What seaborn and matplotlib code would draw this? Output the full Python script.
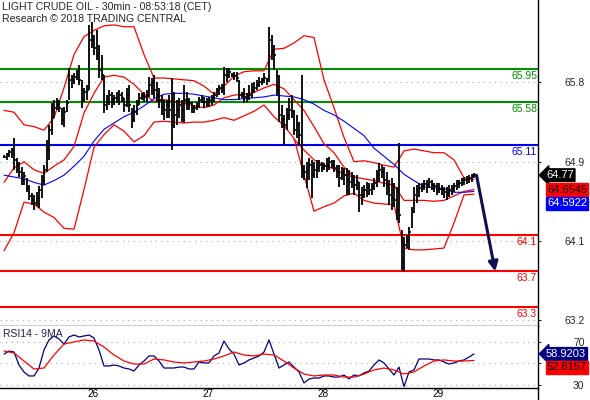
import matplotlib
matplotlib.use("Agg")
import matplotlib.pyplot as plt
import matplotlib.transforms as mtransforms
import numpy as np
import pandas as pd
import seaborn as sns

sns.set_style("white")
plt.rcParams['font.family'] = ['Liberation Sans', 'DejaVu Sans']

# ---------------- data ----------------
title_line1 = "LIGHT CRUDE OIL - 30min - 08:53:18 (CET)"
title_line2 = "Research \u00a9 2018 TRADING CENTRAL"

high = [64.99, 65.02, 65.05, 65.07, 65.18, 64.96, 64.92, 64.86, 64.81, 64.74,
        64.66, 64.57, 64.55, 64.58, 64.65, 64.77, 64.88, 65.16, 65.33, 65.57,
        65.61, 65.63, 65.61, 65.52, 65.53, 65.61, 65.96, 65.88, 65.91, 65.94,
        65.99, 65.83, 65.74, 65.77, 66.44, 66.47, 66.33, 66.38, 66.22, 66.11,
        65.88, 65.66, 65.72, 65.69, 65.66, 65.69, 65.72, 65.69, 65.63, 65.74,
        65.77, 65.52, 65.55, 65.61, 65.68, 65.68, 65.69, 65.72, 65.86, 65.85,
        65.88, 65.81, 65.74, 65.66, 65.61, 65.61, 65.66, 65.85, 65.69, 65.61,
        65.63, 65.61, 65.77, 65.69, 65.63, 65.58, 65.55, 65.58, 65.64, 65.66,
        65.64, 65.63, 65.64, 65.66, 65.69, 65.74, 65.77, 65.78, 65.97, 65.96,
        65.96, 65.91, 65.92, 65.92, 65.83, 65.69, 65.74, 65.68, 65.77, 65.79,
        65.81, 65.83, 65.86, 65.85, 65.91, 65.85, 66.42, 66.33, 66.22, 65.94,
        65.88, 65.55, 65.44, 65.52, 65.63, 65.66, 65.49, 65.44, 65.36, 65.88,
        64.88, 64.92, 64.96, 64.94, 64.92, 64.94, 64.94, 64.92, 64.91, 64.96,
        64.97, 64.94, 64.94, 64.88, 64.88, 64.86, 64.85, 64.85, 64.83, 64.81,
        64.77, 64.77, 64.69, 64.64, 64.66, 64.69, 64.68, 64.68, 64.74, 64.83,
        64.91, 64.88, 64.86, 64.81, 64.72, 64.74, 64.68, 64.64, 65.13, 64.16,
        64.08, 64.11, 64.19, 64.42, 64.64, 64.66, 64.68, 64.68, 64.72, 64.72,
        64.74, 64.72, 64.68, 64.68, 64.68, 64.66, 64.64, 64.64, 64.66, 64.66,
        64.68, 64.72, 64.72, 64.74, 64.75, 64.76, 64.77, 64.78, 64.79]

low = [64.96, 64.94, 64.97, 64.96, 64.83, 64.79, 64.75, 64.66, 64.66, 64.58,
       64.49, 64.44, 64.38, 64.43, 64.41, 64.52, 64.66, 64.81, 64.94, 65.22,
       65.41, 65.49, 65.47, 65.33, 65.31, 65.47, 65.61, 65.74, 65.78, 65.83,
       65.77, 65.52, 65.58, 65.61, 65.72, 66.18, 66.11, 66.05, 65.85, 65.83,
       65.46, 65.49, 65.55, 65.52, 65.55, 65.57, 65.55, 65.58, 65.47, 65.53,
       65.47, 65.29, 65.36, 65.44, 65.55, 65.61, 65.58, 65.58, 65.64, 65.66,
       65.63, 65.58, 65.52, 65.44, 65.38, 65.41, 65.41, 65.05, 65.29, 65.33,
       65.41, 65.36, 65.35, 65.49, 65.49, 65.46, 65.46, 65.49, 65.52, 65.57,
       65.52, 65.53, 65.53, 65.55, 65.58, 65.64, 65.66, 65.68, 65.66, 65.81,
       65.85, 65.86, 65.83, 65.81, 65.61, 65.63, 65.57, 65.58, 65.61, 65.63,
       65.68, 65.72, 65.75, 65.77, 65.79, 65.77, 65.81, 66.05, 65.94, 65.66,
       65.36, 65.29, 65.11, 65.27, 65.38, 65.41, 65.22, 65.18, 65.11, 64.74,
       64.72, 64.63, 64.72, 64.52, 64.74, 64.74, 64.81, 64.81, 64.83, 64.81,
       64.83, 64.85, 64.81, 64.74, 64.64, 64.72, 64.66, 64.55, 64.55, 64.63,
       64.55, 64.61, 64.36, 64.44, 64.52, 64.53, 64.55, 64.55, 64.61, 64.64,
       64.69, 64.74, 64.64, 64.55, 64.44, 64.38, 64.42, 64.27, 64.24, 63.72,
       63.69, 63.96, 63.94, 64.18, 64.35, 64.46, 64.53, 64.58, 64.61, 64.57,
       64.63, 64.61, 64.58, 64.55, 64.57, 64.55, 64.52, 64.49, 64.53, 64.55,
       64.58, 64.61, 64.63, 64.65, 64.66, 64.67, 64.68, 64.69, 64.74]

close = [64.97, 65.01, 65.03, 65.05, 64.94, 64.88, 64.81, 64.72, 64.76, 64.63,
         64.54, 64.49, 64.46, 64.52, 64.61, 64.72, 64.83, 65.05, 65.27, 65.49,
         65.52, 65.55, 65.52, 65.38, 65.47, 65.57, 65.83, 65.83, 65.86, 65.88,
         65.83, 65.61, 65.69, 65.72, 66.27, 66.27, 66.18, 66.11, 65.94, 65.88,
         65.55, 65.58, 65.66, 65.61, 65.63, 65.64, 65.66, 65.63, 65.55, 65.66,
         65.55, 65.38, 65.47, 65.55, 65.63, 65.65, 65.64, 65.66, 65.77, 65.81,
         65.72, 65.66, 65.61, 65.52, 65.49, 65.55, 65.49, 65.55, 65.44, 65.49,
         65.55, 65.49, 65.61, 65.61, 65.57, 65.52, 65.52, 65.54, 65.61, 65.63,
         65.58, 65.58, 65.61, 65.63, 65.66, 65.72, 65.74, 65.74, 65.88, 65.88,
         65.92, 65.88, 65.87, 65.85, 65.66, 65.66, 65.64, 65.65, 65.66, 65.72,
         65.74, 65.77, 65.81, 65.83, 65.85, 65.83, 66.27, 66.16, 66.11, 65.72,
         65.44, 65.38, 65.33, 65.44, 65.49, 65.47, 65.27, 65.33, 65.22, 64.83,
         64.81, 64.83, 64.88, 64.77, 64.83, 64.85, 64.88, 64.85, 64.87, 64.88,
         64.92, 64.88, 64.85, 64.81, 64.74, 64.81, 64.77, 64.72, 64.69, 64.72,
         64.66, 64.69, 64.55, 64.55, 64.61, 64.63, 64.61, 64.64, 64.68, 64.77,
         64.83, 64.81, 64.72, 64.66, 64.55, 64.52, 64.49, 64.38, 64.33, 63.81,
         63.99, 64.05, 64.14, 64.36, 64.55, 64.61, 64.63, 64.65, 64.67, 64.66,
         64.69, 64.66, 64.65, 64.63, 64.62, 64.61, 64.58, 64.57, 64.61, 64.63,
         64.65, 64.67, 64.68, 64.72, 64.72, 64.73, 64.74, 64.76, 64.77]

# indicator curves, read every 4 bars (bars 0, 4, ..., 188)
band_upper_slow = [65.49, 65.47, 65.33, 65.31, 65.27, 65.41, 65.74, 66.11, 66.31, 66.38,
                   66.43, 66.44, 66.42, 66.42, 66.11, 65.85, 65.85, 65.84, 65.83, 65.82,
                   65.76, 65.67, 65.76, 65.87, 65.92, 65.93, 65.93, 66.17, 66.18, 66.24,
                   66.32, 66.30, 65.83, 65.52, 65.19, 64.92, 64.93, 64.91, 64.88, 64.86,
                   65.04, 65.06, 65.04, 65.02, 65.02, 64.94, 64.74, 64.72]
band_lower_slow = [63.93, 64.13, 64.47, 64.45, 64.36, 64.30, 64.18, 64.17, 64.61, 65.08,
                   65.22, 65.33, 65.26, 65.14, 65.21, 65.36, 65.37, 65.36, 65.35, 65.36,
                   65.36, 65.38, 65.41, 65.38, 65.43, 65.48, 65.55, 65.42, 65.32, 65.18,
                   64.77, 64.37, 64.42, 64.46, 64.54, 64.57, 64.49, 64.46, 64.45, 64.44,
                   63.96, 63.94, 63.94, 63.95, 63.96, 64.24, 64.55, 64.56]
band_fast = [64.69, 64.85, 64.92, 64.83, 64.79, 64.87, 64.94, 65.09, 65.46, 65.68,
             65.86, 65.88, 65.86, 65.78, 65.67, 65.59, 65.61, 65.59, 65.57, 65.54,
             65.52, 65.55, 65.63, 65.66, 65.67, 65.69, 65.74, 65.78, 65.73, 65.61,
             65.49, 65.31, 65.12, 65.02, 64.86, 64.75, 64.73, 64.71, 64.68, 64.66,
             64.49, 64.49, 64.49, 64.48, 64.49, 64.54, 64.59, 64.61]
band_fast2_bars = [116, 120, 124, 128, 132, 136, 140]
band_fast2 = [65.17, 65.05, 64.94, 64.88, 64.84, 64.78, 64.75]
moving_avg = [64.77, 64.75, 64.73, 64.69, 64.66, 64.71, 64.77, 64.87, 64.98, 65.15,
              65.28, 65.35, 65.42, 65.47, 65.54, 65.62, 65.67, 65.68, 65.68, 65.67,
              65.65, 65.63, 65.61, 65.61, 65.62, 65.63, 65.64, 65.66, 65.65, 65.64,
              65.61, 65.56, 65.49, 65.44, 65.37, 65.29, 65.21, 65.07, 64.98, 64.89,
              64.78, 64.71, 64.64, 64.63, 64.62, 64.58, 64.58, 64.59]

# RSI read every 2 bars, its 9MA every 4 bars
rsi = [58.8, 61.6, 60.7, 48.6, 42.1, 38.4, 38.4, 45.8, 62.6, 71.9,
       75.6, 72.8, 68.1, 74.7, 76.5, 74.7, 75.6, 76.5, 73.7, 62.6,
       47.7, 47.7, 48.6, 47.7, 45.8, 44.9, 43.0, 48.6, 52.3, 57.0,
       57.0, 52.3, 45.8, 45.8, 45.8, 46.7, 46.7, 44.9, 44.9, 51.4,
       50.5, 50.5, 57.0, 59.8, 70.9, 63.5, 58.8, 48.6, 50.5, 53.3,
       55.1, 57.0, 60.7, 71.9, 58.8, 45.8, 48.6, 51.4, 46.7, 42.1,
       31.9, 35.6, 36.5, 36.5, 38.4, 38.4, 37.4, 37.4, 39.3, 35.6,
       39.3, 38.4, 41.2, 43.0, 48.6, 53.3, 50.5, 44.9, 39.3, 46.7,
       28.5, 42.1, 44.0, 54.2, 54.2, 54.2, 53.3, 53.3, 51.4, 49.5,
       50.5, 52.3, 53.3, 56.0, 58.9]
rsi_ma = [61.6, 59.8, 52.3, 44.9, 45.8, 57.9, 68.1, 70.0, 71.9, 70.9,
          65.3, 57.9, 52.3, 49.5, 49.5, 54.2, 53.3, 51.4, 50.5, 51.4,
          52.3, 54.2, 57.0, 60.7, 57.9, 57.0, 58.8, 57.9, 52.3, 45.8,
          40.2, 38.4, 39.3, 39.3, 37.4, 37.4, 40.2, 44.0, 45.8, 44.0,
          40.2, 42.1, 47.7, 52.3, 53.3, 52.3, 52.3, 52.8]

levels = [65.95, 65.58, 65.11, 64.1, 63.7, 63.3]
level_labels = ["65.95", "65.58", "65.11", "64.1", "63.7", "63.3"]
level_colors = ["#009000", "#009000", "#0000ee", "#ff0000", "#ff0000", "#ff0000"]

price_ticks = [65.806, 64.917, 64.039, 63.161]
price_tick_labels = ["65.8", "64.9", "64.1", "63.2"]
rsi_ticks = [30, 50, 70]
rsi_tick_labels = ["30", "", "70"]
day_ticks = [32, 78, 124, 170]
day_labels = ["26", "27", "28", "29"]

last_price = 64.77
band_last = 64.6545
ma_last = 64.5922
rsi_last = 58.9203
rsi_ma_last = 52.8157
forecast_target = 63.7
forecast_bars = 7.5

# ---------------- figure ----------------
W, H = 590, 400
fig = plt.figure(figsize=(W / 100, H / 100), dpi=100)
ax = fig.add_axes([0, 74 / H, 538 / W, 326 / H])
rx = fig.add_axes([0, 12 / H, 538 / W, 62 / H])

n = len(close)
bars = np.arange(n)
band_bars = np.arange(0, n, 4)
rsi_bars = np.arange(0, n, 2)

xlim = (-1.6, 213.6)
grid_kw = dict(color="#a8a8a8", lw=0.8, ls=(0, (1, 4)))

# price panel
for t in price_ticks:
    ax.axhline(t, zorder=0, **grid_kw)
for v, c in zip(levels, level_colors):
    ax.axhline(v, color=c, lw=1.5, zorder=2)

bands = pd.DataFrame({"bar": band_bars, "u": band_upper_slow, "l": band_lower_slow,
                      "f": band_fast, "ma": moving_avg})
for col in ["u", "l", "f"]:
    sns.lineplot(data=bands, x="bar", y=col, ax=ax, color="#ff0000", lw=0.9, zorder=3)
sns.lineplot(x=band_fast2_bars, y=band_fast2, ax=ax, color="#ff0000", lw=0.9, zorder=3)
sns.lineplot(data=bands, x="bar", y="ma", ax=ax, color="#0000ff", lw=0.8, zorder=3)

ax.vlines(bars, low, high, color="black", lw=1.3, zorder=4)
ax.hlines(close, bars, bars + 0.8, color="black", lw=1.2, zorder=4)

ax.annotate("", xy=(n + forecast_bars, forecast_target), xytext=(n, last_price),
            arrowprops=dict(arrowstyle="-|>", color="#101050", lw=2.2,
                            mutation_scale=14, shrinkA=0, shrinkB=0), zorder=5)

for v, lbl, c in zip(levels, level_labels, level_colors):
    ax.annotate(lbl, xy=(1, v), xycoords=("axes fraction", "data"),
                xytext=(-1, -7), textcoords="offset pixels", ha="right", va="center",
                fontsize=7.5, color=c)

ax.set_xlim(*xlim)
ax.set_ylim(63.094, 66.717)
ax.set_xticks([])
ax.yaxis.tick_right()
ax.set_yticks(price_ticks)
ax.set_yticklabels(price_tick_labels)
ax.tick_params(axis="y", length=2.5, width=0.8, pad=31, labelsize=7.5, direction="out")
for lab in ax.get_yticklabels():
    lab.set_ha("right")
ax.set_xlabel("")
ax.set_ylabel("")
for s in ["top", "left"]:
    ax.spines[s].set_visible(False)
for s in ["right", "bottom"]:
    ax.spines[s].set_color("black")
    ax.spines[s].set_linewidth(1.0)

# value markers on the price axis
mk = dict(xycoords=("axes fraction", "data"), textcoords="offset pixels",
          va="center", fontsize=8, annotation_clip=False)
ax.annotate(f"{last_price:.2f}", xy=(1, last_price), xytext=(8, 0), ha="left",
            color="white", bbox=dict(boxstyle="larrow,pad=0.12", fc="black", ec="black"), **mk)
ax.annotate(f"{band_last:.4f}", xy=(1, band_last), xytext=(9, -4), ha="left",
            color="black", bbox=dict(boxstyle="square,pad=0.12", fc="#ff0000", ec="#ff0000"), **mk)
ax.annotate(f"{ma_last:.4f}", xy=(1, ma_last), xytext=(9, -12), ha="left",
            color="white", bbox=dict(boxstyle="square,pad=0.12", fc="#0000ff", ec="#0000ff"), **mk)

# RSI panel
for t in rsi_ticks:
    rx.axhline(t, zorder=0, **grid_kw)
sns.lineplot(x=rsi_bars, y=rsi, ax=rx, color="#000080", lw=0.9, zorder=3)
sns.lineplot(x=band_bars, y=rsi_ma, ax=rx, color="#ff0000", lw=0.9, zorder=3)
rx.set_xlim(*xlim)
rx.set_ylim(27.21, 84.88)
rx.yaxis.tick_right()
rx.set_yticks(rsi_ticks)
rx.set_yticklabels(rsi_tick_labels)
rx.tick_params(axis="y", length=2.5, width=0.8, pad=31, labelsize=7.5, direction="out")
for lab in rx.get_yticklabels():
    lab.set_ha("right")
rx.set_xticks(day_ticks)
rx.set_xticklabels(day_labels)
rx.tick_params(axis="x", length=3.5, width=0.8, pad=-2.5, labelsize=7.2, direction="out",
               labelcolor="#000000")
shift = mtransforms.ScaledTranslation(3 / 100, 0, fig.dpi_scale_trans)
for lab in rx.get_xticklabels():
    lab.set_ha("left")
    lab.set_transform(lab.get_transform() + shift)
rx.set_xlabel("")
rx.set_ylabel("")
for s in ["top", "left"]:
    rx.spines[s].set_visible(False)
for s in ["right", "bottom"]:
    rx.spines[s].set_color("black")
    rx.spines[s].set_linewidth(1.0)
rx.text(0.005, 0.87, "RSI14 - 9MA", transform=rx.transAxes, fontsize=7.5,
        color="#202045", ha="left", va="center")
rx.annotate(f"{rsi_last:.4f}", xy=(1, rsi_last), xytext=(8, 0), ha="left",
            color="white", bbox=dict(boxstyle="larrow,pad=0.12", fc="#000080", ec="#000080"),
            **mk)
rx.annotate(f"{rsi_ma_last:.4f}", xy=(1, rsi_ma_last), xytext=(9, -7), ha="left",
            color="black", bbox=dict(boxstyle="square,pad=0.12", fc="#ff0000", ec="#ff0000"),
            **mk)

# right border continues down to the bottom edge
fig.add_artist(plt.Line2D([538 / W, 538 / W], [0, 12 / H], color="black", lw=1.0,
                          transform=fig.transFigure))

fig.text(2 / W, 1 - 7 / H, title_line1, fontsize=7.6, ha="left", va="center")
fig.text(2 / W, 1 - 19 / H, title_line2, fontsize=7.6, ha="left", va="center")

fig.savefig("out.png", dpi=100)
